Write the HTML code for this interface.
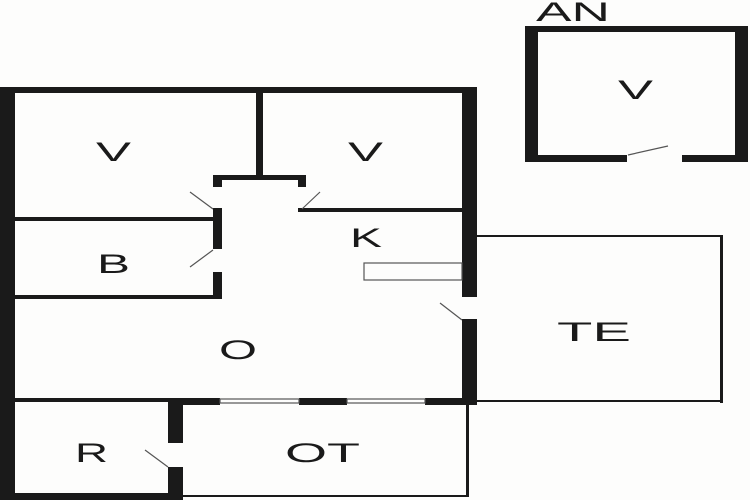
<!DOCTYPE html>
<html><head><meta charset="utf-8"><style>
html,body{margin:0;padding:0;background:#fff;}
svg{display:block;}
text{font-family:"Liberation Sans",sans-serif;font-size:27px;fill:#1a1a1a;}
</style></head><body>
<svg width="750" height="500" viewBox="0 0 750 500" xmlns="http://www.w3.org/2000/svg">
<rect width="750" height="500" fill="#fdfdfc"/>
<g fill="#1a1a1a">
<rect x="0" y="87" width="15" height="413"/>
<rect x="0" y="87" width="477" height="6"/>
<rect x="462" y="87" width="15" height="210"/>
<rect x="462" y="319" width="15" height="86"/>
<rect x="0" y="493" width="183" height="7"/>
<rect x="256" y="93" width="7" height="85"/>
<rect x="213" y="175" width="93" height="5"/>
<rect x="213" y="175" width="9" height="12"/>
<rect x="213" y="208" width="9" height="41"/>
<rect x="213" y="272" width="9" height="27"/>
<rect x="298" y="175" width="8" height="12"/>
<rect x="298" y="208" width="8" height="4"/>
<rect x="298" y="208" width="164" height="4"/>
<rect x="15" y="217" width="198" height="4"/>
<rect x="15" y="295" width="207" height="4"/>
<rect x="15" y="398" width="153" height="4"/>
<rect x="168" y="398" width="52" height="7"/>
<rect x="299" y="398" width="48" height="7"/>
<rect x="425" y="398" width="52" height="7"/>
<rect x="168" y="398" width="15" height="45"/>
<rect x="168" y="467" width="15" height="33"/>
<rect x="466" y="402" width="3" height="95"/>
<rect x="183" y="495" width="286" height="2"/>
<rect x="477" y="235" width="245" height="2"/>
<rect x="720" y="235" width="3" height="168"/>
<rect x="477" y="400" width="246" height="2"/>
<rect x="525" y="26" width="223" height="6"/>
<rect x="525" y="26" width="13" height="136"/>
<rect x="735" y="26" width="13" height="136"/>
<rect x="525" y="155" width="102" height="7"/>
<rect x="682" y="155" width="66" height="7"/>
</g>
<g stroke="#555" stroke-width="1.2" fill="none">
<rect x="220" y="399" width="79" height="4"/>
<rect x="347" y="399" width="78" height="4"/>
<rect x="364" y="263" width="98" height="17"/>
<line x1="190" y1="192" x2="213" y2="209"/>
<line x1="190" y1="267" x2="213" y2="250"/>
<line x1="320" y1="192" x2="302" y2="209"/>
<line x1="440" y1="303" x2="462" y2="320"/>
<line x1="145" y1="450" x2="168" y2="467"/>
<line x1="628" y1="155" x2="668" y2="146"/>
</g>
<g>
<text x="96" y="161" textLength="35" lengthAdjust="spacingAndGlyphs">V</text>
<text x="348" y="161" textLength="35" lengthAdjust="spacingAndGlyphs">V</text>
<text x="350" y="247" textLength="32" lengthAdjust="spacingAndGlyphs">K</text>
<text x="97" y="273" textLength="33" lengthAdjust="spacingAndGlyphs">B</text>
<text x="219" y="359" textLength="38" lengthAdjust="spacingAndGlyphs">O</text>
<text x="557" y="341" textLength="74" lengthAdjust="spacingAndGlyphs">TE</text>
<text x="75" y="462" textLength="33" lengthAdjust="spacingAndGlyphs">R</text>
<text x="285" y="462" textLength="75" lengthAdjust="spacingAndGlyphs">OT</text>
<text x="618" y="99" textLength="35" lengthAdjust="spacingAndGlyphs">V</text>
<text x="536" y="21" textLength="74" lengthAdjust="spacingAndGlyphs">AN</text>
</g>
</svg>
</body></html>
